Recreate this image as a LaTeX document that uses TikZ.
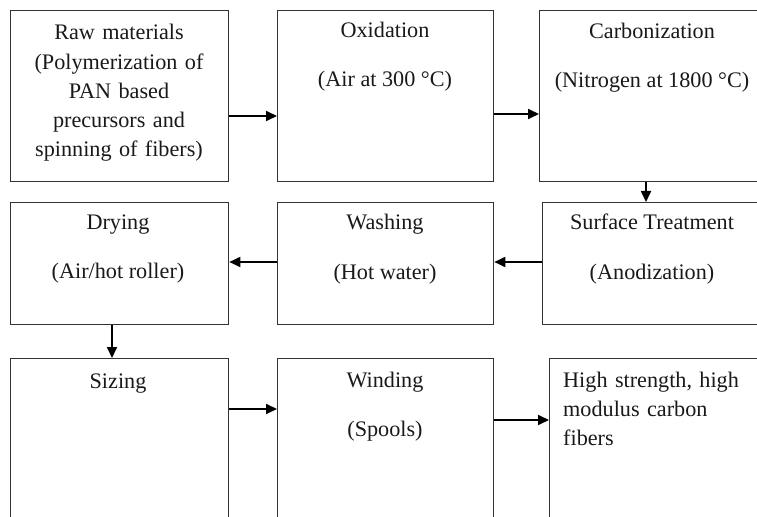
\documentclass[tikz,border=0pt]{standalone}
\usepackage{fontspec}
\setmainfont{Liberation Serif}
\usetikzlibrary{arrows.meta}
\begin{document}
\begin{tikzpicture}[x=1bp,y=-1bp,
  stagebox/.style={draw=black!80,line width=1.3bp,rectangle,inner sep=0pt},
  flow/.style={draw=black,line width=1.8bp,-{Triangle[length=11bp,width=10bp]}},
  lbl/.style={inner sep=0pt,anchor=base,text=black!90,font=\fontsize{22.2bp}{29.2bp}\selectfont}]
\useasboundingbox (0,0) rectangle (757,517);
% row 1
\node[stagebox,minimum width=218bp,minimum height=171bp,anchor=north west] (b1) at (10,10) {};
\node[stagebox,minimum width=216bp,minimum height=171bp,anchor=north west] (b2) at (277,10) {};
\node[stagebox,minimum width=226bp,minimum height=171bp,anchor=north west] (b3) at (539,10) {};
% row 2
\node[stagebox,minimum width=218bp,minimum height=122bp,anchor=north west] (b4) at (10,202) {};
\node[stagebox,minimum width=216bp,minimum height=122bp,anchor=north west] (b5) at (277,202) {};
\node[stagebox,minimum width=226bp,minimum height=122bp,anchor=north west] (b6) at (542,202) {};
% row 3
\node[stagebox,minimum width=218bp,minimum height=180bp,anchor=north west] (b7) at (10,358) {};
\node[stagebox,minimum width=216bp,minimum height=180bp,anchor=north west] (b8) at (277,358) {};
\node[stagebox,minimum width=226bp,minimum height=180bp,anchor=north west] (b9) at (549,358) {};
% texts
\node[lbl,text width=218bp,align=center] (t1) at (119,40) {Raw materials\\(Polymerization of\\PAN based\\precursors and\\spinning of fibers)};
\node[lbl] (t2a) at (385,38) {Oxidation};
\node[lbl] (t2b) at (385,87) {(Air at 300 °C)};
\node[lbl] (t3a) at (652,39) {Carbonization};
\node[lbl] (t3b) at (652,88) {(Nitrogen at 1800 °C)};
\node[lbl] (t4a) at (118,230) {Drying};
\node[lbl] (t4b) at (118,279) {(Air/hot roller)};
\node[lbl] (t5a) at (385,230) {Washing};
\node[lbl] (t5b) at (385,280) {(Hot water)};
\node[lbl] (t6a) at (652,230) {Surface Treatment};
\node[lbl] (t6b) at (652,280) {(Anodization)};
\node[lbl] (t7a) at (118,388) {Sizing};
\node[lbl] (t8a) at (385,387) {Winding};
\node[lbl] (t8b) at (385,436) {(Spools)};
\node[lbl,anchor=base west,text width=190bp,align=left] (t9) at (563,387) {High strength, high\\modulus carbon\\fibers};
% connectors
\draw[flow] (b1.east |- 0,116) -- (b2.west |- 0,116);
\draw[flow] (b2.east |- 0,114) -- (b3.west |- 0,114);
\draw[flow] (b3.south -| 646,0) -- (b6.north -| 646,0);
\draw[flow] (b6.west |- 0,262) -- (b5.east |- 0,262);
\draw[flow] (b5.west |- 0,262) -- (b4.east |- 0,262);
\draw[flow] (b4.south -| 112,0) -- (b7.north -| 112,0);
\draw[flow] (b7.east |- 0,409) -- (b8.west |- 0,409);
\draw[flow] (b8.east |- 0,420) -- (b9.west |- 0,420);
\end{tikzpicture}
\end{document}
